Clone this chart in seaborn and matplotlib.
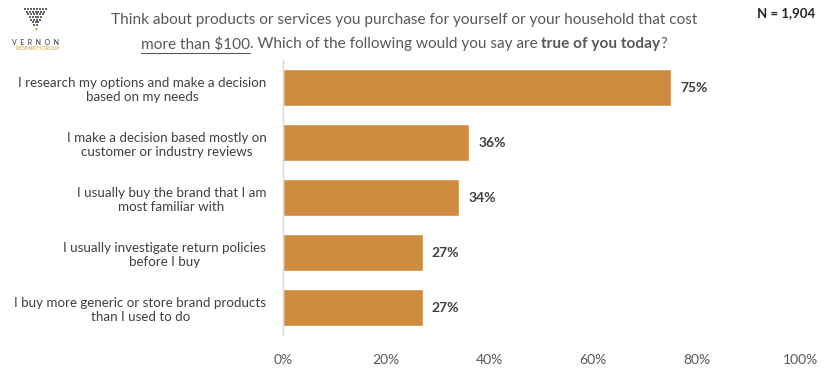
import pandas as pd
import matplotlib
matplotlib.use("Agg")
import matplotlib.pyplot as plt
import seaborn as sns

statements = [
    "I research my options and make a decision\nbased on my needs",
    "I make a decision based mostly on\ncustomer or industry reviews",
    "I usually buy the brand that I am\nmost familiar with",
    "I usually investigate return policies\nbefore I buy",
    "I buy more generic or store brand products\nthan I used to do",
]
percent = [75, 36, 34, 27, 27]
x_ticks = [0, 20, 40, 60, 80, 100]
x_labels = ["0%", "20%", "40%", "60%", "80%", "100%"]

df = pd.DataFrame({"statement": statements, "pct": percent})

sns.set_theme(style="white")
plt.rcParams["font.family"] = ["Lato", "DejaVu Sans"]
txt = "#404040"
bar_color = "#CF8C40"

fig = plt.figure(figsize=(8.26, 3.69), dpi=100)
ax = fig.add_axes([0.3426, 0.092, 0.626, 0.745])

sns.barplot(data=df, x="pct", y="statement", color=bar_color, width=0.66,
            saturation=1, ax=ax)

for i, v in enumerate(percent):
    ax.text(v + 1.8, i, f"{v}%", va="center", ha="left", fontsize=10,
            fontweight="bold", color=txt)

ax.set_xlim(0, 100)
ax.set_xticks(x_ticks)
ax.set_xticklabels(x_labels, fontsize=10, color="#595959")
ax.tick_params(axis="y", labelsize=9.6, labelcolor=txt, length=0, pad=12)
ax.tick_params(axis="x", length=0, pad=14)
ax.set_xlabel("")
ax.set_ylabel("")
for s in ["top", "right", "bottom"]:
    ax.spines[s].set_visible(False)
ax.spines["left"].set_color("#D9D9D9")
ax.spines["left"].set_linewidth(1)
for lbl in ax.get_yticklabels():
    lbl.set_horizontalalignment("right")
    lbl.set_multialignment("center")

# title, first line
fig.text(0.489, 0.946, "Think about products or services you purchase for yourself or your household that cost",
         ha="center", va="center", fontsize=11.1, color="#595959")

# second line with underline and bold pieces
pieces = [("more than $100", "normal", True), (". Which of the following would you say are ", "normal", False),
          ("true of you today", "bold", False), ("?", "normal", False)]
renderer = fig.canvas.get_renderer()
objs = []
for s, w, u in pieces:
    objs.append(fig.text(0, 0.881, s, ha="left", va="center", fontsize=11.1,
                         fontweight=w, color="#595959"))
widths = [o.get_window_extent(renderer).width / fig.bbox.width for o in objs]
x = 0.489 - sum(widths) / 2
for o, wd, (s, w, u) in zip(objs, widths, pieces):
    o.set_x(x)
    if u:
        fig.add_artist(plt.Line2D([x, x + wd], [0.857, 0.857], color="#595959",
                                  lw=0.8, transform=fig.transFigure))
    x += wd

fig.text(0.987, 0.965, "N = 1,904", ha="right", va="center", fontsize=9.5,
         fontweight="bold", color="#262626")

# logo
logo = fig.add_axes([0.028, 0.915, 0.03, 0.065])
rows = [8, 7, 6, 5, 4, 3, 2]
for r, n in enumerate(rows):
    xs = [j - (n - 1) / 2 for j in range(n)]
    logo.scatter(xs, [-r] * n, s=1.6, color="#666666", marker="s", linewidths=0)
logo.scatter([0], [-7.6], s=4, color="#C9A227", marker="v", linewidths=0)
logo.set_xlim(-4.2, 4.2)
logo.set_ylim(-8.3, 0.6)
logo.axis("off")
fig.text(0.043, 0.886, "V  E  R  N  O  N", ha="center", va="center", fontsize=5,
         color="#333333")
fig.text(0.045, 0.869, "RESEARCH GROUP", ha="center", va="center", fontsize=3.5,
         color="#C9A227")

fig.savefig("out.png", dpi=100)
